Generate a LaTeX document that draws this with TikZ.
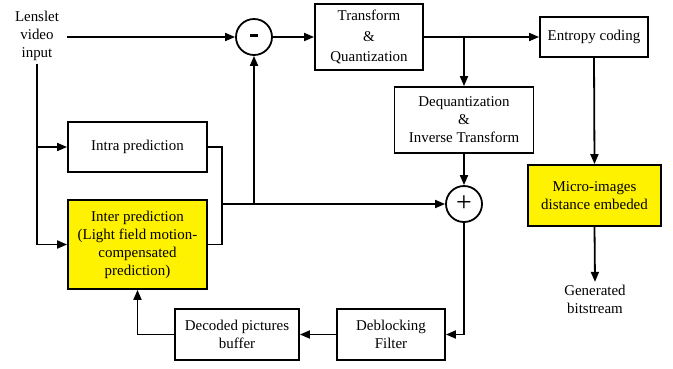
\documentclass[tikz,border=0pt]{standalone}
\usepackage{fontspec}
\setmainfont{Liberation Serif}
\usetikzlibrary{arrows.meta,calc}
\begin{document}
\begin{tikzpicture}[x=1bp,y=-1bp,
  line width=1.8bp,
  every node/.style={font=\fontsize{15}{18}\selectfont},
  box/.style={draw,rectangle,align=center,inner sep=0pt},
  yel/.style={box,fill=yellow},
  sumc/.style={draw,circle,minimum size=36bp,inner sep=0pt},
  arr/.style={-{Triangle[length=10bp,width=8bp]}}]
\useasboundingbox (0,0) rectangle (673,368);
% nodes
\node[align=center,inner sep=2bp] (in) at (37,36) {Lenslet\\video\\input};
\node[sumc] (minus) at (254,37) {\rule[3bp]{8bp}{3bp}};
\node[box,minimum width=108bp,minimum height=66bp,font=\fontsize{15}{20.5}\selectfont] (tq) at (369,37) {Transform\\\&\\Quantization};
\node[box,minimum width=108bp,minimum height=40bp] (ent) at (594,37) {Entropy coding};
\node[box,minimum width=139bp,minimum height=66bp] (dq) at (464,120) {Dequantization\\\&\\Inverse Transform};
\node[sumc] (plus) at (464,204) {\fontsize{28}{28}\selectfont\raisebox{1bp}{+}};
\node[yel,minimum width=133bp,minimum height=61bp] (micro) at (594.5,195.5) {Micro-images\\distance embeded};
\node[align=center,inner sep=2bp] (gen) at (595,299) {Generated\\bitstream};
\node[box,minimum width=139bp,minimum height=50bp] (intra) at (137.5,147) {Intra prediction};
\node[yel,minimum width=139bp,minimum height=89bp] (inter) at (137.5,244.5) {Inter prediction\\(Light field motion-\\compensated\\prediction)};
\node[box,minimum width=124bp,minimum height=51bp] (dpb) at (237,334.5) {Decoded pictures\\buffer};
\node[box,minimum width=108bp,minimum height=51bp] (dbf) at (391,334.5) {Deblocking\\Filter};
\coordinate (inS) at (67,37);
\coordinate (m) at (222,204);
% connectors
\draw[arr] (inS) -- (minus.west);
\draw[arr] (minus.east) -- (tq.west);
\draw[arr] (tq.east) -- (ent.west);
\draw[arr] (dq.north |- tq.east) -- (dq.north);
\draw[arr] (dq.south) -- (plus.north);
\draw[arr] (ent.south) -- (micro.north);
\draw[arr] (micro.south) -- (gen.north);
\draw (in.south) -- (in.south |- intra.west);
\draw[arr] (in.south |- intra.west) -- (intra.west);
\draw[arr] (in.south |- intra.west) |- (inter.west);
\draw (intra.east) -| (m);
\draw (inter.east) -| (m);
\draw[arr] (m) -- (plus.west);
\draw[arr] (minus.south |- m) -- (minus.south);
\draw[arr] (plus.south) |- (dbf.east);
\draw[arr] (dbf.west) -- (dpb.east);
\draw[arr] (dpb.west) -| (inter.south);
\end{tikzpicture}
\end{document}
